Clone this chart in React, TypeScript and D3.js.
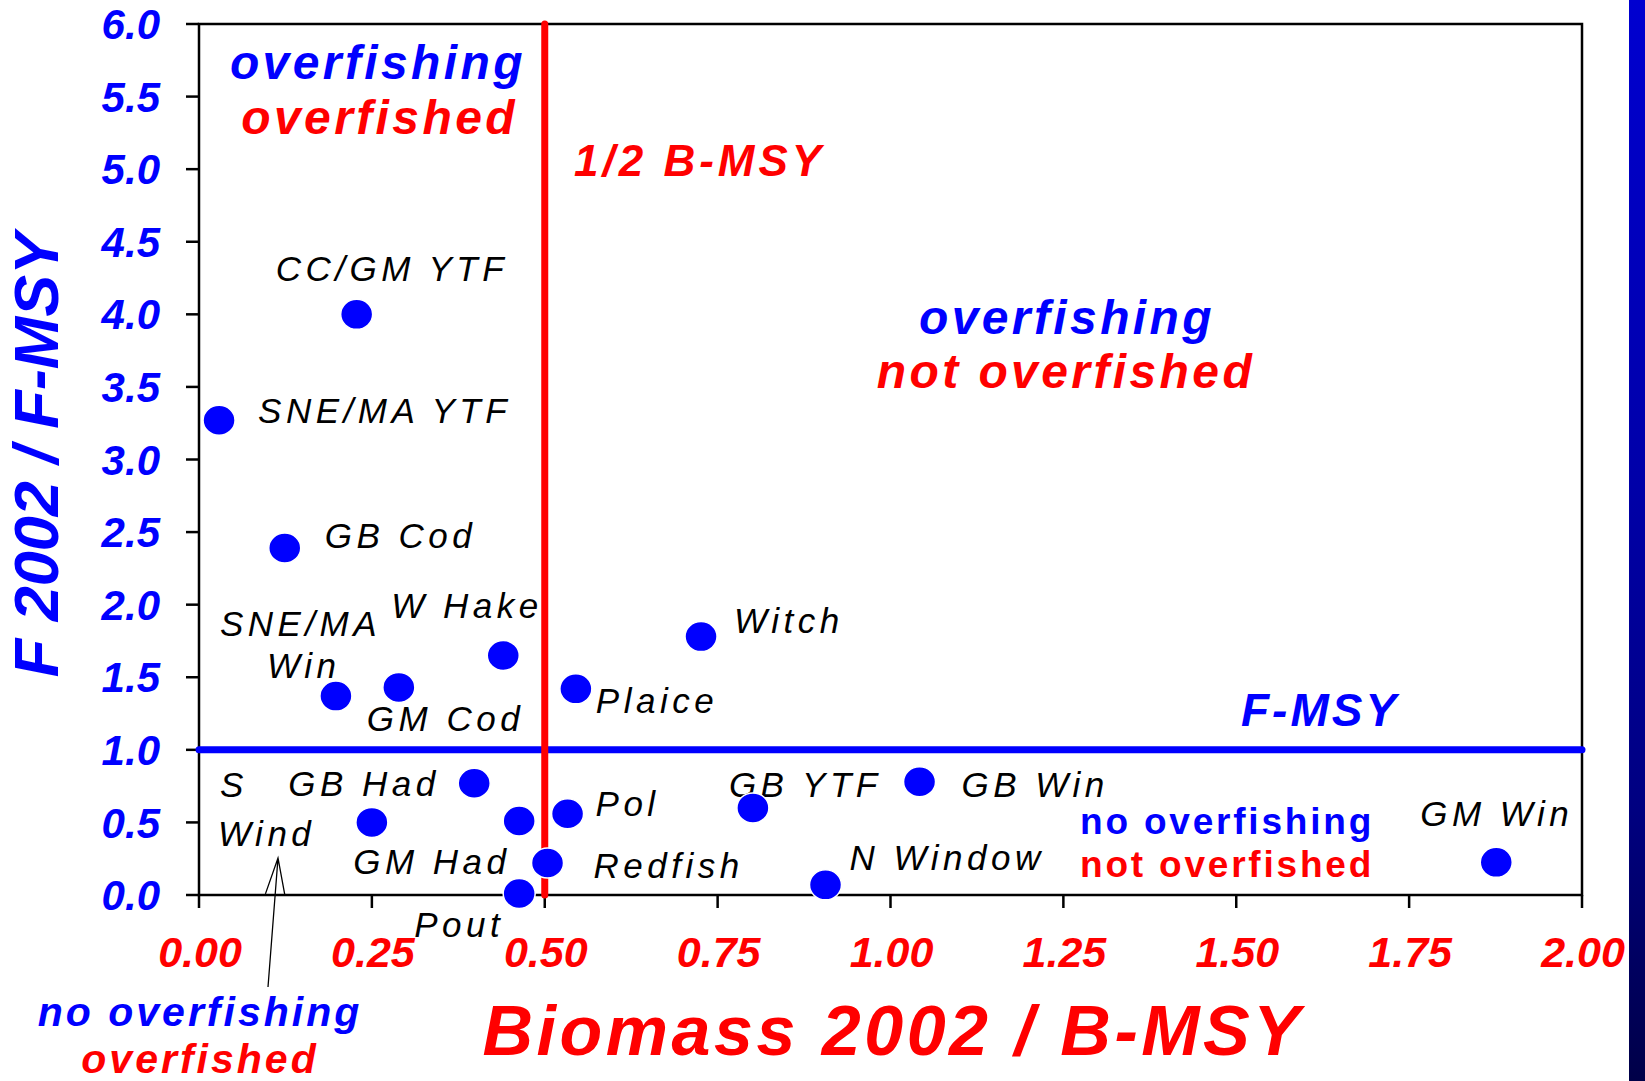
import React, { useEffect, useRef } from "react";
import * as d3 from "d3";

// stock status 2002
const stocks = [
  "CC/GM YTF", "SNE/MA YTF", "GB Cod", "SNE/MA Win", "GM Cod", "W Hake",
  "Plaice", "Witch", "GB Had", "S Wind", "GM Had", "Pol", "Redfish",
  "Pout", "GB YTF", "GB Win", "N Window", "GM Win",
];
const biomassRatio = [
  0.228, 0.029, 0.124, 0.198, 0.289, 0.44, 0.545, 0.726, 0.398, 0.25,
  0.463, 0.533, 0.504, 0.463, 0.801, 1.042, 0.906, 1.876,
];
const fRatio = [
  4.0, 3.27, 2.39, 1.37, 1.43, 1.65, 1.42, 1.78, 0.77, 0.5, 0.51, 0.56,
  0.22, 0.01, 0.6, 0.78, 0.07, 0.225,
];
const labelText = [
  ["CC/GM YTF"], ["SNE/MA YTF"], ["GB Cod"], ["SNE/MA", "Win"], ["GM Cod"],
  ["W Hake"], ["Plaice"], ["Witch"], ["GB Had"], ["S", "Wind"], ["GM Had"],
  ["Pol"], ["Redfish"], ["Pout"], ["GB YTF"], ["GB Win"], ["N Window"], ["GM Win"],
];
// label offsets from dot centre, px
const labelOffset = [
  [[-81, -33]], [[39, 3]], [[40, 0]], [[-116, -60], [-69, -18]], [[-32, 44]],
  [[-112, -37]], [[20, 24]], [[33, -4]], [[-186, 13]], [[-152, -25], [-154, 24]],
  [[-166, 53]], [[28, 2]], [[46, 15]], [[-105, 43]], [[-24, -11]], [[42, 15]],
  [[24, -15]], [[-76, -36]],
];

const xTicks = [0, 0.25, 0.5, 0.75, 1, 1.25, 1.5, 1.75, 2];
const yTicks = [0, 0.5, 1, 1.5, 2, 2.5, 3, 3.5, 4, 4.5, 5, 5.5, 6];
const fMsy = 1.0;
const halfBmsy = 0.5;

const W = 1645;
const H = 1081;
const FONT = "'Liberation Sans', Arial, sans-serif";
const BLUE = "#0000ff";
const RED = "#ff0000";

const App = () => {
  const svgRef = useRef(null);

  useEffect(() => {
    const svg = d3.select(svgRef.current);
    svg.selectAll("*").remove();

    const x = d3.scaleLinear().domain([0, 2]).range([199, 1582]);
    const y = d3.scaleLinear().domain([0, 6]).range([895, 24]);

    // side strip
    const grad = svg.append("defs").append("linearGradient")
      .attr("id", "strip").attr("x1", 0).attr("y1", 0).attr("x2", 0).attr("y2", 1);
    grad.append("stop").attr("offset", 0).attr("stop-color", "#0000d0");
    grad.append("stop").attr("offset", 0.45).attr("stop-color", "#0000a8");
    grad.append("stop").attr("offset", 0.75).attr("stop-color", "#000080");
    grad.append("stop").attr("offset", 1).attr("stop-color", "#000048");
    svg.append("rect").attr("x", 1629).attr("y", 0).attr("width", W - 1629)
      .attr("height", H).attr("fill", "url(#strip)");

    // frame
    svg.append("rect")
      .attr("x", x(0)).attr("y", y(6))
      .attr("width", x(2) - x(0)).attr("height", y(0) - y(6))
      .attr("fill", "none").attr("stroke", "#000").attr("stroke-width", 2.5);

    // y axis ticks + labels
    const yAxis = svg.append("g");
    yAxis.selectAll("line").data(yTicks).enter().append("line")
      .attr("x1", x(0) - 13).attr("x2", x(0))
      .attr("y1", d => y(d)).attr("y2", d => y(d))
      .attr("stroke", "#000").attr("stroke-width", 2.5);
    yAxis.selectAll("text").data(yTicks).enter().append("text")
      .attr("x", 160).attr("y", d => y(d)).attr("dy", "0.36em")
      .attr("text-anchor", "end")
      .attr("font-family", FONT).attr("font-size", 42)
      .attr("font-weight", "bold").attr("font-style", "italic")
      .attr("fill", BLUE)
      .text(d => d3.format(".1f")(d));

    // x axis ticks + labels
    const xAxis = svg.append("g");
    xAxis.selectAll("line").data(xTicks).enter().append("line")
      .attr("x1", d => x(d)).attr("x2", d => x(d))
      .attr("y1", y(0)).attr("y2", y(0) + 13)
      .attr("stroke", "#000").attr("stroke-width", 2.5);
    xAxis.selectAll("text").data(xTicks).enter().append("text")
      .attr("x", d => x(d) + 1).attr("y", 967)
      .attr("text-anchor", "middle")
      .attr("font-family", FONT).attr("font-size", 43)
      .attr("font-weight", "bold").attr("font-style", "italic")
      .attr("fill", RED)
      .text(d => d3.format(".2f")(d));

    // axis titles
    svg.append("text")
      .attr("x", 893).attr("y", 1055).attr("text-anchor", "middle")
      .attr("font-family", FONT).attr("font-size", 70)
      .attr("font-weight", "bold").attr("font-style", "italic")
      .attr("letter-spacing", 3.5).attr("fill", RED)
      .text("Biomass 2002 / B-MSY");
    svg.append("text")
      .attr("transform", "translate(58,455) rotate(-90)")
      .attr("text-anchor", "middle")
      .attr("font-family", FONT).attr("font-size", 63)
      .attr("font-weight", "bold").attr("font-style", "italic")
      .attr("fill", BLUE)
      .text("F 2002 / F-MSY");

    // reference lines
    svg.append("line")
      .attr("x1", x(0)).attr("x2", x(2))
      .attr("y1", y(fMsy)).attr("y2", y(fMsy))
      .attr("stroke", BLUE).attr("stroke-width", 7).attr("stroke-linecap", "round");
    svg.append("line")
      .attr("x1", x(halfBmsy)).attr("x2", x(halfBmsy))
      .attr("y1", y(6)).attr("y2", y(0))
      .attr("stroke", RED).attr("stroke-width", 7).attr("stroke-linecap", "round");

    // region / line annotations
    const note = (tx, ty, str, color, size, anchor = "start", italic = true, ls = 4) =>
      svg.append("text")
        .attr("x", tx).attr("y", ty).attr("text-anchor", anchor)
        .attr("font-family", FONT).attr("font-size", size)
        .attr("font-weight", "bold").attr("font-style", italic ? "italic" : "normal")
        .attr("letter-spacing", ls).attr("fill", color)
        .text(str);

    note(526, 79, "overfishing", BLUE, 48, "end", true, 3.4);
    note(518, 134, "overfished", RED, 48, "end", true, 3.4);
    note(574, 176, "1/2 B-MSY", RED, 44);
    note(1067, 334, "overfishing", BLUE, 48, "middle", true, 3.4);
    note(1066, 388, "not overfished", RED, 48, "middle", true, 3.4);
    note(1241, 726, "F-MSY", BLUE, 46, "start", true, 3);
    note(1080, 834, "no overfishing", BLUE, 37, "start", false, 2.8);
    note(1080, 877, "not overfished", RED, 37, "start", false, 2.8);
    note(200, 1026, "no overfishing", BLUE, 41, "middle", true, 3);
    note(200, 1073, "overfished", RED, 41, "middle", true, 3);

    // arrow pointing to S Wind
    const tip = [278, 858];
    const tail = [268, 987];
    const ang = Math.atan2(tail[1] - tip[1], tail[0] - tip[0]);
    const barb = (a) => [tip[0] + 38 * Math.cos(ang + a), tip[1] + 38 * Math.sin(ang + a)];
    const arrow = d3.path();
    arrow.moveTo(tail[0], tail[1]);
    arrow.lineTo(tip[0], tip[1]);
    const b1 = barb(0.26);
    const b2 = barb(-0.26);
    arrow.moveTo(b1[0], b1[1]);
    arrow.lineTo(tip[0], tip[1]);
    arrow.lineTo(b2[0], b2[1]);
    svg.append("path").attr("d", arrow.toString())
      .attr("fill", "none").attr("stroke", "#000").attr("stroke-width", 1.3);

    // stock labels
    const labels = svg.append("g")
      .attr("font-family", FONT).attr("font-size", 35)
      .attr("font-style", "italic").attr("letter-spacing", 4.5).attr("fill", "#000");
    stocks.forEach((s, i) => {
      labelText[i].forEach((line, j) => {
        labels.append("text")
          .attr("x", x(biomassRatio[i]) + labelOffset[i][j][0])
          .attr("y", y(fRatio[i]) + labelOffset[i][j][1])
          .text(line);
      });
    });

    // points
    svg.append("g").selectAll("ellipse")
      .data(stocks).enter().append("ellipse")
      .attr("cx", (d, i) => x(biomassRatio[i]))
      .attr("cy", (d, i) => y(fRatio[i]))
      .attr("rx", 16).attr("ry", 15)
      .attr("fill", BLUE).attr("stroke", "#fff").attr("stroke-width", 1.5);
  }, []);

  return (
    <svg
      ref={svgRef}
      width={W}
      height={H}
      style={{ position: "absolute", left: 0, top: 0, background: "#fff" }}
    />
  );
};

export default App;
